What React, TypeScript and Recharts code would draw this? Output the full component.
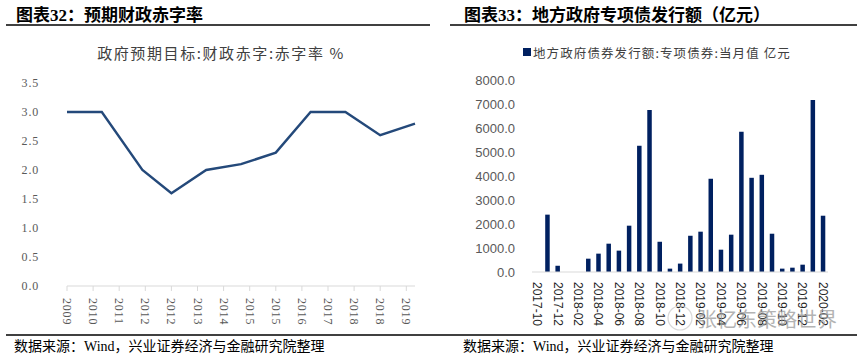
import React from 'react';
import { LineChart, Line, BarChart, Bar, XAxis, YAxis } from 'recharts';

// ---- Left chart data: 预期财政赤字率 ----
const deficitYears = ['2009', '2010', '2011', '2012', '2013', '2014', '2015', '2016', '2017', '2018', '2019'];
const deficitMonthOffset = [0, 12, 26, 36, 48, 60, 72, 84, 96, 108, 120];
const deficitRate = [3.0, 3.0, 2.0, 1.6, 2.0, 2.1, 2.3, 3.0, 3.0, 2.6, 2.8];
const leftTickOffsets = [0, 9, 18, 27, 36, 45, 54, 63, 72, 81, 90, 99, 108, 117];
const leftTickLabels = ['2009', '2010', '2011', '2012', '2012', '2013', '2014', '2015', '2015', '2016', '2017', '2018', '2018', '2019'];
const leftYTicks = [0, 0.5, 1.0, 1.5, 2.0, 2.5, 3.0, 3.5];

// ---- Right chart data: 地方政府专项债发行额 ----
const bondMonths = [
  '2017-10', '2017-11', '2017-12', '2018-01', '2018-02', '2018-03', '2018-04', '2018-05', '2018-06', '2018-07',
  '2018-08', '2018-09', '2018-10', '2018-11', '2018-12', '2019-01', '2019-02', '2019-03', '2019-04', '2019-05',
  '2019-06', '2019-07', '2019-08', '2019-09', '2019-10', '2019-11', '2019-12', '2020-01', '2020-02',
];
const bondValues = [
  0, 2390, 260, 0, 0, 555, 765, 1180, 890, 1930,
  5260, 6755, 1260, 140, 350, 1510, 1680, 3885, 930, 1555,
  5840, 3925, 4050, 1595, 140, 180, 305, 7170, 2345,
];
const rightYTicks = [0, 1000, 2000, 3000, 4000, 5000, 6000, 7000, 8000];

const deficitData = deficitYears.map((y, i) => ({ year: y, m: deficitMonthOffset[i], rate: deficitRate[i] }));
const bondData = bondMonths.map((m, i) => ({ month: m, value: bondValues[i] }));

const LeftXTick = (props: any) => {
  const { x, y, payload } = props;
  const idx = leftTickOffsets.indexOf(payload.value);
  const label = idx >= 0 ? leftTickLabels[idx] : '';
  return (
    <text
      x={x}
      y={y + 5}
      transform={`rotate(90, ${x}, ${y + 5})`}
      textAnchor="start"
      dominantBaseline="central"
      fontFamily="'Liberation Serif', serif"
      fontSize={12}
      letterSpacing={0.8}
      fill="#595959"
    >
      {label}
    </text>
  );
};

const RightXTick = (props: any) => {
  const { x, y, payload } = props;
  return (
    <text
      x={x}
      y={y + 10}
      transform={`rotate(90, ${x}, ${y + 10})`}
      textAnchor="start"
      dominantBaseline="central"
      fontFamily="'Liberation Sans', Arial, sans-serif"
      fontSize={12}
      fill="#262626"
    >
      {payload.value}
    </text>
  );
};

const titleFont = "'Liberation Serif', 'Noto Sans CJK SC', serif";
const cjkFont = "'Noto Sans CJK SC', sans-serif";

export default function App() {
  return (
    <div
      style={{
        position: 'absolute',
        left: 0,
        top: 0,
        width: 865,
        height: 359,
        background: '#ffffff',
        overflow: 'hidden',
      }}
    >
      <div style={{ position: 'absolute', left: 0, top: 0 }}>
        <LineChart
          width={430}
          height={359}
          data={deficitData}
          margin={{ top: 83, right: 15, bottom: 33, left: 7 }}
        >
          <XAxis
            dataKey="m"
            type="number"
            domain={[0, 120]}
            ticks={leftTickOffsets}
            interval={0}
            height={40}
            stroke="#d9d9d9"
            tickLine={{ stroke: '#d9d9d9' }}
            tickSize={5}
            tick={<LeftXTick />}
          />
          <YAxis
            domain={[0, 3.5]}
            ticks={leftYTicks}
            width={60}
            axisLine={false}
            tickLine={false}
            tickSize={0}
            tickMargin={28}
            tickFormatter={(v: number) => v.toFixed(1)}
            tick={{ fontFamily: "'Liberation Serif', serif", fontSize: 12, fill: '#595959', letterSpacing: 0.8 }}
          />
          <Line
            dataKey="rate"
            stroke="#24497a"
            strokeWidth={2.4}
            dot={false}
            isAnimationActive={false}
          />
        </LineChart>
      </div>

      <div style={{ position: 'absolute', left: 432, top: 0 }}>
        <BarChart
          width={433}
          height={359}
          data={bondData}
          margin={{ top: 80, right: 37, bottom: 37, left: 20 }}
        >
          <XAxis
            dataKey="month"
            interval={1}
            height={50}
            stroke="#d9d9d9"
            tickLine={false}
            tickSize={0}
            tickMargin={0}
            tick={<RightXTick />}
          />
          <YAxis
            domain={[0, 8000]}
            ticks={rightYTicks}
            width={80}
            axisLine={false}
            tickLine={false}
            tickSize={0}
            tickMargin={17}
            tickFormatter={(v: number) => v.toFixed(1)}
            tick={{ fontFamily: "'Liberation Sans', Arial, sans-serif", fontSize: 13, fill: '#595959' }}
          />
          <Bar dataKey="value" fill="#002060" barSize={4.5} isAnimationActive={false} />
        </BarChart>
      </div>

      <svg
        width={865}
        height={359}
        style={{ position: 'absolute', left: 0, top: 0, pointerEvents: 'none' }}
      >
        {/* titles */}
        <text x={16} y={15} dominantBaseline="central" fontFamily={titleFont} fontWeight="bold" fontSize={17} fill="#000">
          图表32：预期财政赤字率
        </text>
        <text x={464} y={15} dominantBaseline="central" fontFamily={titleFont} fontWeight="bold" fontSize={17} fill="#000">
          图表33：地方政府专项债发行额（亿元）
        </text>
        <line x1={6} y1={25} x2={430} y2={25} stroke="#000" strokeWidth={1.3} />
        <line x1={450} y1={25} x2={857} y2={25} stroke="#000" strokeWidth={1.3} />

        {/* subtitles */}
        <text x={221} y={52} textAnchor="middle" dominantBaseline="central" fontFamily={cjkFont} fontSize={15} letterSpacing={1.6} fill="#404040">
          政府预期目标:财政赤字:赤字率 %
        </text>
        <rect x={523} y={48} width={8} height={8} fill="#002060" />
        <text x={533} y={52} dominantBaseline="central" fontFamily={cjkFont} fontSize={12.5} letterSpacing={1.1} fill="#404040">
          地方政府债券发行额:专项债券:当月值 亿元
        </text>

        {/* watermark */}
        <circle cx={680} cy={318} r={12} fill="none" stroke="#d0d0d0" strokeWidth={1.2} opacity={0.8} />
        <text x={697} y={318} dominantBaseline="central" fontFamily={cjkFont} fontSize={20} fill="#9a9a9a" opacity={0.75}>
          张忆东策略世界
        </text>

        {/* footer */}
        <line x1={6} y1={335} x2={857} y2={335} stroke="#000" strokeWidth={1.3} />
        <text x={14} y={346} dominantBaseline="central" fontFamily={titleFont} fontSize={14} fill="#000">
          数据来源：Wind，兴业证券经济与金融研究院整理
        </text>
        <text x={463} y={346} dominantBaseline="central" fontFamily={titleFont} fontSize={14} fill="#000">
          数据来源：Wind，兴业证券经济与金融研究院整理
        </text>
      </svg>
    </div>
  );
}
